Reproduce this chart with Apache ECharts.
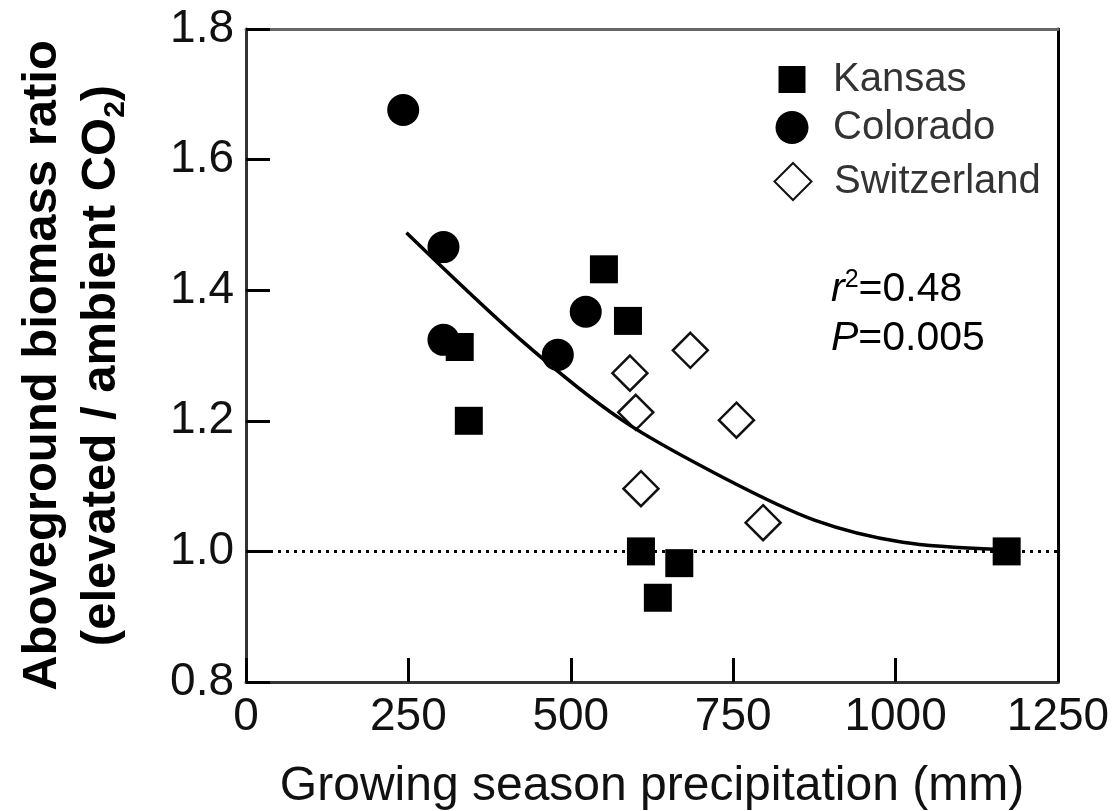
<!DOCTYPE html>
<html>
<head>
<meta charset="utf-8">
<script src="https://cdn.jsdelivr.net/npm/echarts@6/dist/echarts.min.js"></script>
<style>
  html, body { margin: 0; background: #fff; }
  #chart { width: 1115px; height: 811px; }
</style>
</head>
<body>
<div id="chart"></div>
<script>
// values: [precipitation mm, biomass ratio]
const kansas = [[551, 1.432], [588, 1.353], [329, 1.313], [343, 1.2], [608, 1.0], [667, 0.982], [634, 0.929], [1171, 1.0]];
const colorado = [[242, 1.676], [304, 1.466], [304, 1.324], [480, 1.301], [523, 1.367]];
const switzerland = [[684, 1.308], [591, 1.273], [600, 1.213], [608, 1.096], [755, 1.201], [796, 1.044]];
const fitCurve = [[247, 1.488], [423, 1.324], [579, 1.201], [733, 1.114], [875, 1.048], [1011, 1.014], [1160, 1.003]];
const refLine = [[0, 1], [1250, 1]];
const xRange = [0, 1250, 250];
const yRange = [0.8, 1.8, 0.2];

const FONT = "'Liberation Sans', Arial, sans-serif";

const chart = echarts.init(document.getElementById("chart"));

function legendItem(name, icon, size, top) {
  // keep text starting at x = 833
  const left = 792 - size / 2;
  return {
    data: [name],
    icon: icon,
    left: left,
    top: top - size / 2,
    padding: 0,
    itemWidth: size,
    itemHeight: size,
    selectedMode: false,
    textStyle: {
      fontFamily: FONT,
      fontSize: 40,
      color: "#333",
      padding: [0, 0, 0, 833 - (left + size + 5)]
    }
  };
}

function ticks() {
  return { show: true, inside: true, length: 24, lineStyle: { color: "#000000", width: 3, opacity: 1 } };
}

chart.setOption({
  backgroundColor: "#fff",
  animation: false,
  grid: { left: 246, top: 29, width: 812, height: 653, outerBoundsMode: "none", containLabel: false },
  legend: [
    legendItem("Kansas", "rect", 27, 73),
    legendItem("Colorado", "circle", 33, 124),
    legendItem("Switzerland", "diamond", 37, 180)
  ],
  xAxis: [
    {
      type: "value",
      min: xRange[0],
      max: xRange[1],
      interval: xRange[2],
      name: "Growing season precipitation (mm)",
      nameLocation: "middle",
      nameGap: 81,
      nameTextStyle: { fontFamily: FONT, fontSize: 48, color: "#111" },
      axisLine: { show: true, onZero: false, lineStyle: { color: "#333", width: 3 } },
      axisTick: ticks(),
      axisLabel: { fontFamily: FONT, fontSize: 46, color: "#111", margin: 12, formatter: v => String(v) },
      splitLine: { show: false }
    },
    {
      type: "value",
      position: "top",
      min: xRange[0],
      max: xRange[1],
      axisLine: { show: true, onZero: false, lineStyle: { color: "#666", width: 3 } },
      axisTick: { show: false },
      axisLabel: { show: false },
      splitLine: { show: false }
    }
  ],
  yAxis: [
    {
      type: "value",
      min: yRange[0],
      max: yRange[1],
      interval: yRange[2],
      name: "{b|Aboveground biomass ratio}\n{b|(elevated / ambient CO}{sub|2}{b|)}",
      nameLocation: "middle",
      nameRotate: 90,
      nameGap: 115,
      nameTextStyle: {
        fontFamily: FONT,
        color: "#000",
        padding: [0, 20, 0, 0],
        rich: {
          b: { fontFamily: FONT, fontSize: 49, fontWeight: "bold", lineHeight: 59, color: "#000" },
          sub: { fontFamily: FONT, fontSize: 30, fontWeight: "bold", lineHeight: 30, verticalAlign: "bottom", color: "#000" }
        }
      },
      axisLine: { show: true, onZero: false, lineStyle: { color: "#333", width: 3 } },
      axisTick: ticks(),
      axisLabel: {
        fontFamily: FONT,
        fontSize: 46,
        color: "#111",
        margin: 12,
        formatter: v => v.toFixed(1)
      },
      splitLine: { show: false }
    },
    {
      type: "value",
      position: "right",
      min: yRange[0],
      max: yRange[1],
      axisLine: { show: true, onZero: false, lineStyle: { color: "#000", width: 3 } },
      axisTick: { show: false },
      axisLabel: { show: false },
      splitLine: { show: false }
    }
  ],
  series: [
    {
      name: "ref",
      type: "line",
      data: refLine,
      symbol: "none",
      silent: true,
      lineStyle: { color: "#000", width: 3, type: [3, 5] },
      z: 1
    },
    {
      name: "Kansas",
      type: "scatter",
      symbol: "rect",
      symbolSize: 28,
      data: kansas,
      itemStyle: { color: "#000", opacity: 1 },
      z: 2
    },
    {
      name: "Colorado",
      type: "scatter",
      symbol: "circle",
      symbolSize: 32,
      data: colorado,
      itemStyle: { color: "#000", opacity: 1 },
      z: 3
    },
    {
      name: "Switzerland",
      type: "scatter",
      symbol: "diamond",
      symbolSize: 35,
      data: switzerland,
      itemStyle: { color: "#fff", borderColor: "#111", borderWidth: 2.5, opacity: 1 },
      z: 4
    },
    {
      name: "fit",
      type: "line",
      data: fitCurve,
      smooth: 0.3,
      symbol: "none",
      silent: true,
      lineStyle: { color: "#000", width: 3.5 },
      z: 5
    }
  ],
  graphic: [
    {
      type: "text",
      left: 831,
      top: 268,
      style: {
        text: "{i|r}{s|2}{n|=0.48}",
        rich: {
          i: { fontFamily: FONT, fontSize: 41, fontStyle: "italic", lineHeight: 44, fill: "#000" },
          s: { fontFamily: FONT, fontSize: 25, lineHeight: 26, verticalAlign: "top", fill: "#000" },
          n: { fontFamily: FONT, fontSize: 41, lineHeight: 44, fill: "#000" }
        }
      }
    },
    {
      type: "text",
      left: 831,
      top: 318,
      style: {
        text: "{i|P}{n|=0.005}",
        rich: {
          i: { fontFamily: FONT, fontSize: 41, fontStyle: "italic", lineHeight: 44, fill: "#000" },
          n: { fontFamily: FONT, fontSize: 41, lineHeight: 44, fill: "#000" }
        }
      }
    }
  ]
});
</script>
</body>
</html>
